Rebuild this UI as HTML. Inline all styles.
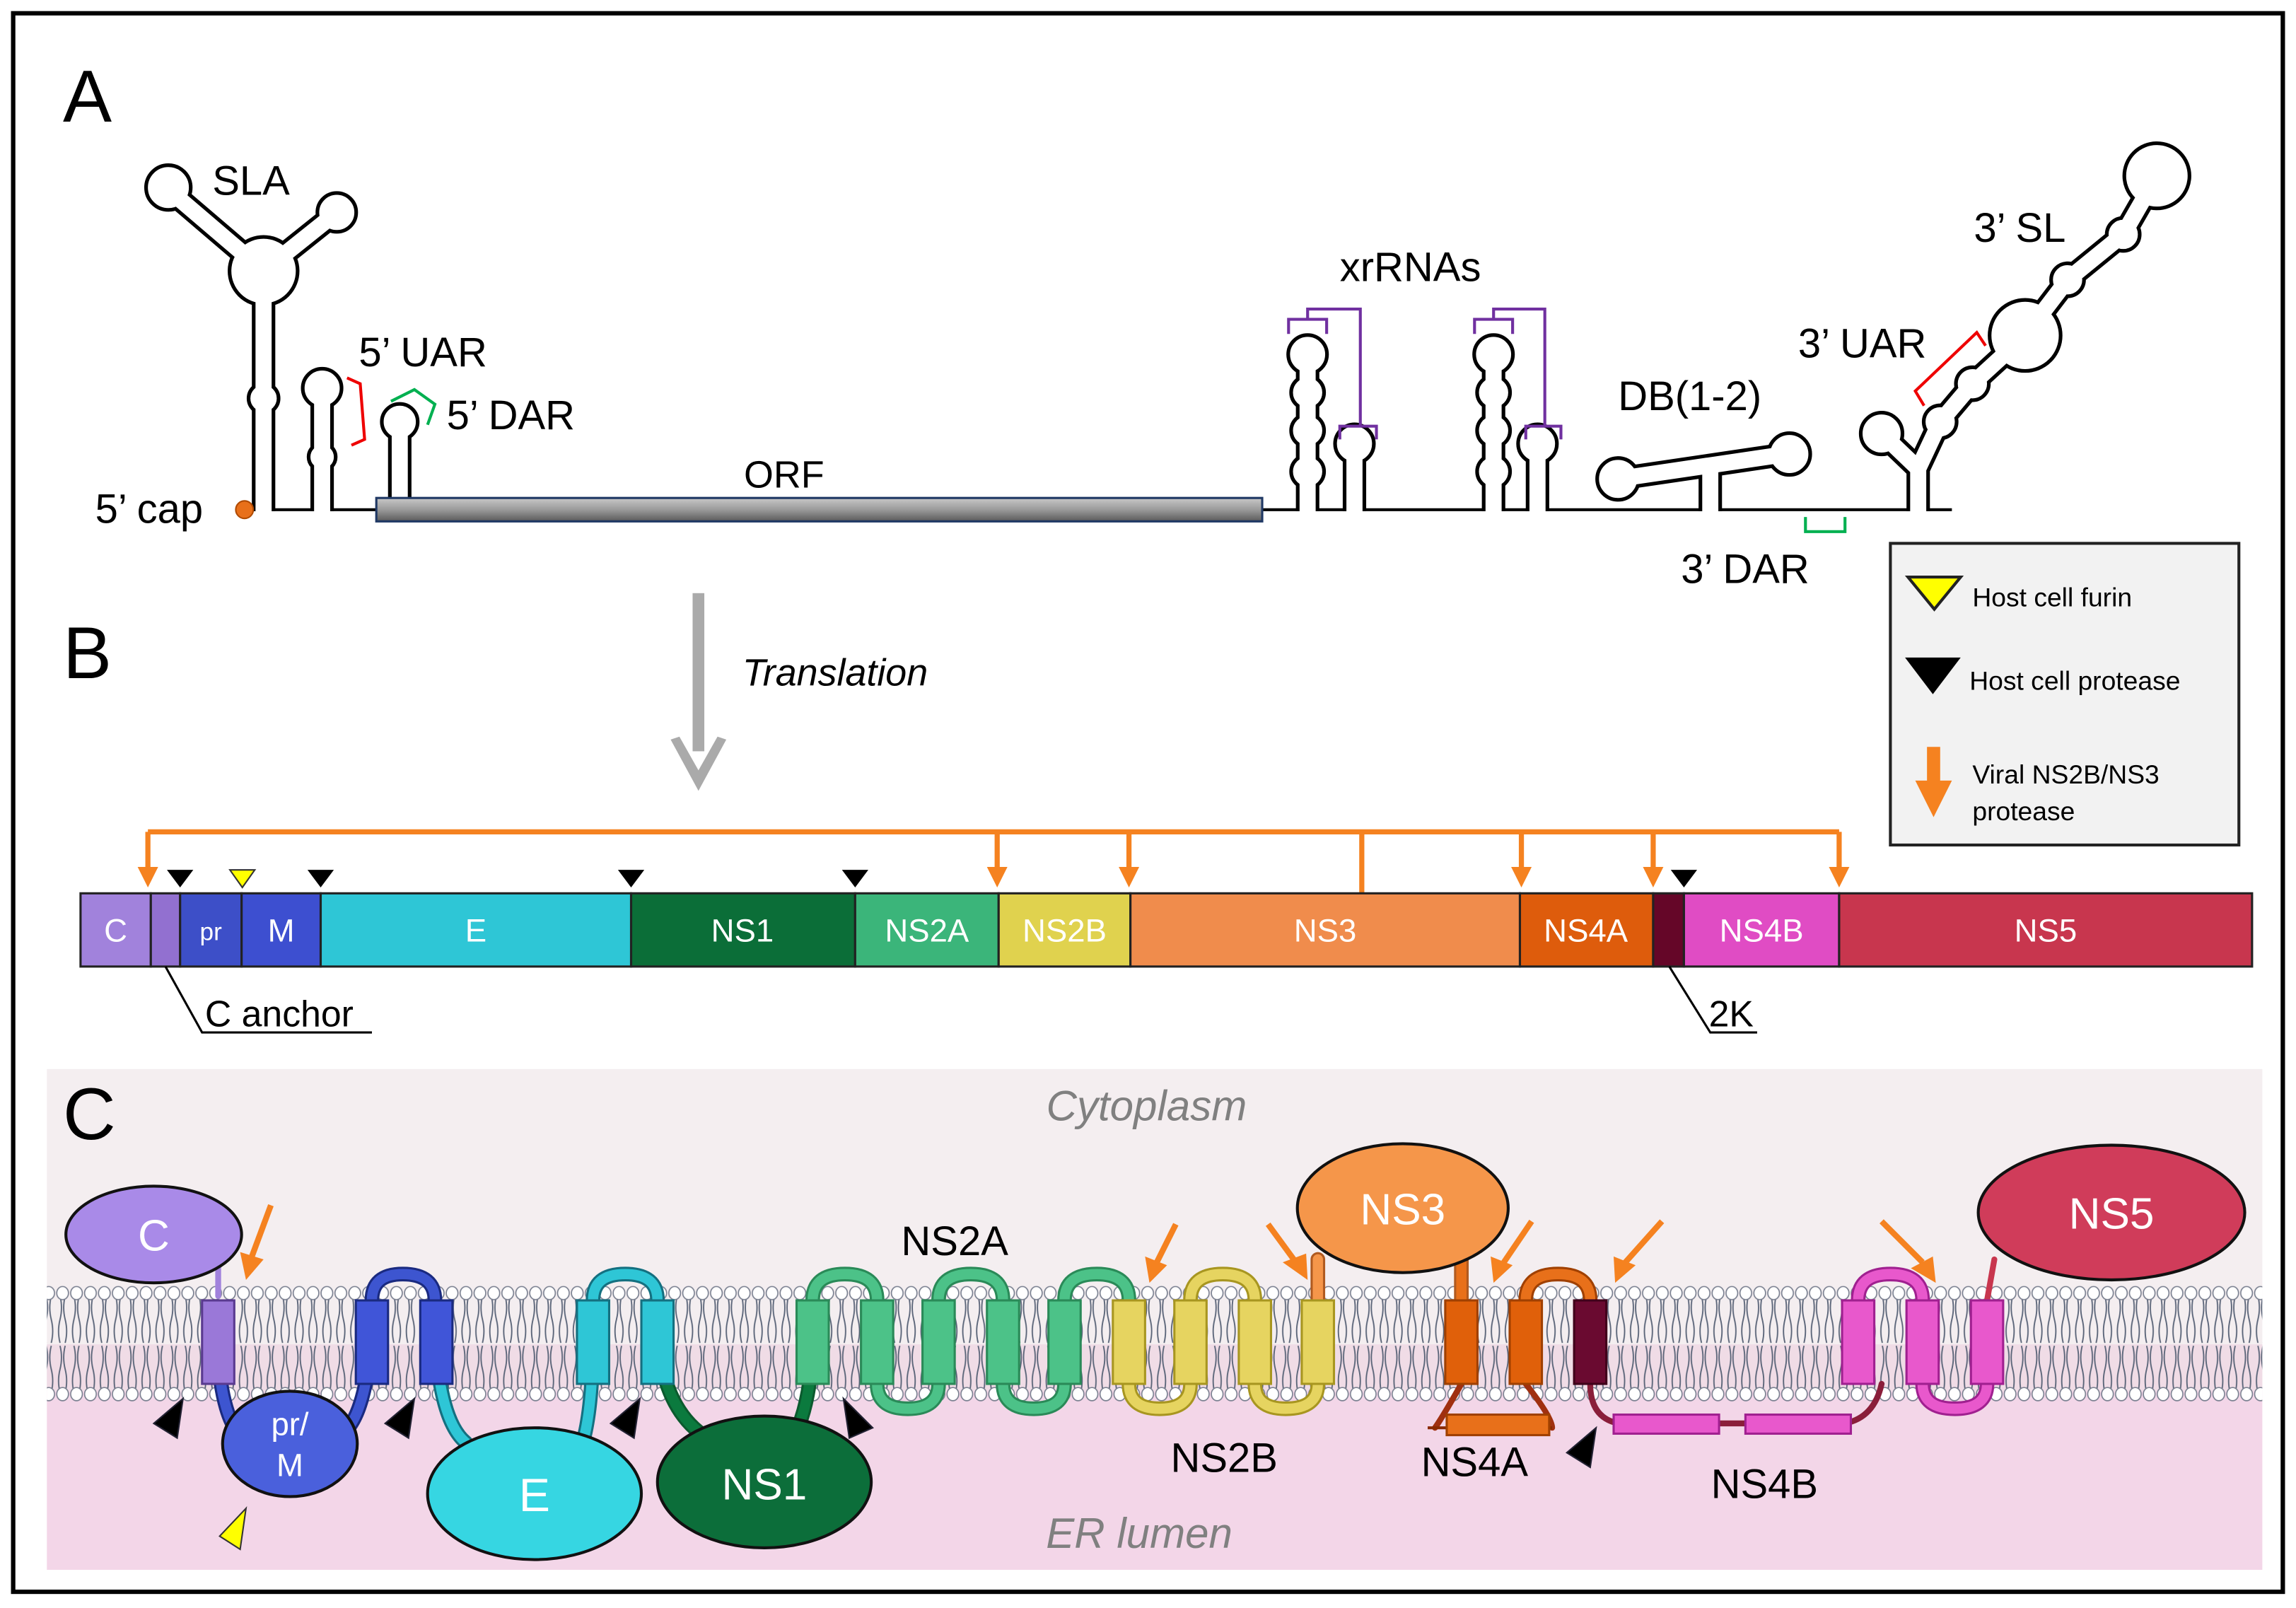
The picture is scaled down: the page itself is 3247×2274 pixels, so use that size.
<!DOCTYPE html>
<html><head><meta charset="utf-8"><style>
html,body{margin:0;padding:0;background:#fff}
svg{display:block}
text{font-family:"Liberation Sans Narrow","Liberation Sans",sans-serif}
</style></head><body>
<svg width="3247" height="2274" viewBox="0 0 1568 1098" xmlns="http://www.w3.org/2000/svg">
<defs>
<pattern id="lip" x="0" y="878" width="9.5" height="80" patternUnits="userSpaceOnUse">
 <path d="M3,7 q2,8 0,16 q-2,8 0,16 M6.5,7 q-2,8 0,16 q2,8 0,16 M3,41 q2,8 0,16 q-2,8 0,16 M6.5,41 q-2,8 0,16 q2,8 0,16" stroke="#5a6478" stroke-width="0.9" fill="none"/>
 <ellipse cx="4.75" cy="5" rx="4" ry="4.5" fill="#fff" stroke="#7a8090" stroke-width="0.8"/>
 <ellipse cx="4.75" cy="74" rx="4" ry="4.5" fill="#fff" stroke="#7a8090" stroke-width="0.8"/>
</pattern>
<linearGradient id="orf" x1="0" y1="0" x2="0" y2="1"><stop offset="0" stop-color="#c8c8c8"/><stop offset="0.5" stop-color="#9a9a9a"/><stop offset="1" stop-color="#5a5a5a"/></linearGradient>
</defs>
<rect x="0" y="0" width="1568" height="1098" fill="#fff"/>
<rect x="9" y="9" width="1550" height="1078" fill="none" stroke="#000" stroke-width="3"/>

<!-- Panel A -->
<text x="43" y="83" font-size="50" font-family="Liberation Sans">A</text>
<line x1="166" y1="348" x2="1333" y2="348" stroke="#000" stroke-width="2"/>
<g stroke="#000" fill="#000">
 <g stroke-width="16" fill="none">
  <path d="M180,349 V190 M180,185 L118,132 M180,185 L230,145 M220,349 V265 M273,349 V288 M893,349 V240 M925,349 V298 M1020,349 V240 M1050,349 V298 M1168,349 V320 M1105,327 L1220,310 M1310,349 L1310,320 L1285,296 M1310,320 L1325,288 L1347,262 L1383,229 L1412,191 L1450,160 L1473,120"/>
 </g>
 <circle cx="180" cy="185" r="24"/><circle cx="115" cy="128" r="16"/><circle cx="230" cy="145" r="14"/>
 <circle cx="180" cy="272" r="11"/>
 <circle cx="220" cy="265" r="14"/><circle cx="220" cy="312" r="10"/>
 <circle cx="273" cy="288" r="13"/>
 <circle cx="893" cy="242" r="14"/><circle cx="893" cy="268" r="12"/><circle cx="893" cy="294" r="12"/><circle cx="893" cy="322" r="12"/>
 <circle cx="925" cy="303" r="14"/>
 <circle cx="1020" cy="242" r="14"/><circle cx="1020" cy="268" r="12"/><circle cx="1020" cy="294" r="12"/><circle cx="1020" cy="322" r="12"/>
 <circle cx="1050" cy="303" r="14"/>
 <circle cx="1105" cy="327" r="15"/><circle cx="1222" cy="310" r="15"/>
 <circle cx="1285" cy="296" r="15"/>
 <circle cx="1325" cy="288" r="12"/><circle cx="1347" cy="262" r="12"/>
 <circle cx="1383" cy="229" r="25"/>
 <circle cx="1412" cy="191" r="12"/><circle cx="1450" cy="160" r="12"/>
 <circle cx="1473" cy="120" r="23"/>
</g>
<g stroke="#fff" fill="#fff">
 <g stroke-width="11" fill="none">
  <path d="M180,350 V190 M180,185 L118,132 M180,185 L230,145 M220,350 V265 M273,350 V288 M893,350 V240 M925,350 V298 M1020,350 V240 M1050,350 V298 M1168,350 V320 M1105,327 L1220,310 M1310,350 L1310,320 L1285,296 M1310,320 L1325,288 L1347,262 L1383,229 L1412,191 L1450,160 L1473,120"/>
 </g>
 <circle cx="180" cy="185" r="21.5"/><circle cx="115" cy="128" r="13.5"/><circle cx="230" cy="145" r="11.5"/>
 <circle cx="180" cy="272" r="8.5"/>
 <circle cx="220" cy="265" r="11.5"/><circle cx="220" cy="312" r="7.5"/>
 <circle cx="273" cy="288" r="10.5"/>
 <circle cx="893" cy="242" r="11.5"/><circle cx="893" cy="268" r="9.5"/><circle cx="893" cy="294" r="9.5"/><circle cx="893" cy="322" r="9.5"/>
 <circle cx="925" cy="303" r="11.5"/>
 <circle cx="1020" cy="242" r="11.5"/><circle cx="1020" cy="268" r="9.5"/><circle cx="1020" cy="294" r="9.5"/><circle cx="1020" cy="322" r="9.5"/>
 <circle cx="1050" cy="303" r="11.5"/>
 <circle cx="1105" cy="327" r="12.5"/><circle cx="1222" cy="310" r="12.5"/>
 <circle cx="1285" cy="296" r="12.5"/>
 <circle cx="1325" cy="288" r="9.5"/><circle cx="1347" cy="262" r="9.5"/>
 <circle cx="1383" cy="229" r="22.5"/>
 <circle cx="1412" cy="191" r="9.5"/><circle cx="1450" cy="160" r="9.5"/>
 <circle cx="1473" cy="120" r="20.5"/>
</g>
<circle cx="167" cy="348" r="6" fill="#e8701a" stroke="#b04a00" stroke-width="1"/>
<rect x="257" y="340" width="605" height="16" fill="url(#orf)" stroke="#1f3864" stroke-width="1.5"/>
<!-- brackets -->
<path d="M237,258 L246,262 L249,300 L240,304" stroke="#e00" stroke-width="2" fill="none"/>
<path d="M267,274 L283,266 L297,276 L292,290" stroke="#00b050" stroke-width="2" fill="none"/>
<path d="M1233,353 V363 H1260 V353" stroke="#00b050" stroke-width="2" fill="none"/>
<path d="M1314,277 L1308,267 L1350,227 L1356,236" stroke="#e00" stroke-width="2" fill="none"/>
<g stroke="#7030a0" stroke-width="2" fill="none">
 <path d="M880,228 V218 H906 V228 M893,218 V211 H929 V290 M915,300 V291 H940 V300"/>
 <path d="M1007,228 V218 H1033 V228 M1020,218 V211 H1055 V290 M1042,300 V291 H1066 V300"/>
</g>
<g font-size="28">
 <text x="145" y="133">SLA</text>
 <text x="245" y="250">5’ UAR</text>
 <text x="305" y="293">5’ DAR</text>
 <text x="65" y="357">5’ cap</text>
 <text x="508" y="333" font-size="26">ORF</text>
 <text x="915" y="192">xrRNAs</text>
 <text x="1105" y="280">DB(1-2)</text>
 <text x="1228" y="244">3’ UAR</text>
 <text x="1348" y="165">3’ SL</text>
 <text x="1148" y="398">3’ DAR</text>
</g>

<!-- Legend -->
<rect x="1291" y="371" width="238" height="206" fill="#f2f2f2" stroke="#222" stroke-width="2"/>
<path d="M1303,394 L1339,394 L1321,416 Z" fill="#ffff00" stroke="#222" stroke-width="2"/>
<text x="1347" y="414" font-size="18" font-family="Liberation Sans">Host cell furin</text>
<path d="M1301,449 L1339,449 L1320,474 Z" fill="#000"/>
<text x="1345" y="471" font-size="18" font-family="Liberation Sans">Host cell protease</text>
<rect x="1316" y="510" width="9" height="26" fill="#f58220"/>
<path d="M1308,533 L1333,533 L1320.5,558 Z" fill="#f58220"/>
<text x="1347" y="535" font-size="18" font-family="Liberation Sans">Viral NS2B/NS3</text>
<text x="1347" y="560" font-size="18" font-family="Liberation Sans">protease</text>

<!-- Panel B -->
<text x="43" y="463" font-size="50" font-family="Liberation Sans">B</text>
<rect x="473" y="405" width="8" height="108" fill="#aaa"/>
<path d="M458,505 L477,540 L496,505 L490,503 L477,526 L464,503 Z" fill="#aaa"/>
<text x="507" y="468" font-size="26" font-style="italic" font-family="Liberation Sans">Translation</text>

<g stroke="#f58220" stroke-width="3.5" fill="none">
 <path d="M101,568 H1256 M101,568 V596 M681,568 V596 M771,568 V596 M930,568 V610 M1039,568 V596 M1129,568 V596 M1256,568 V596"/>
</g>
<g fill="#f58220">
 <path d="M94,592 L108,592 L101,606 Z"/><path d="M674,592 L688,592 L681,606 Z"/><path d="M764,592 L778,592 L771,606 Z"/>
 <path d="M1032,592 L1046,592 L1039,606 Z"/><path d="M1122,592 L1136,592 L1129,606 Z"/><path d="M1249,592 L1263,592 L1256,606 Z"/>
</g>
<g fill="#000">
 <path d="M114,594 L132,594 L123,606 Z"/><path d="M210,594 L228,594 L219,606 Z"/><path d="M422,594 L440,594 L431,606 Z"/>
 <path d="M575,594 L593,594 L584,606 Z"/><path d="M1141,594 L1159,594 L1150,606 Z"/>
</g>
<path d="M157,594 L174,594 L165.5,606 Z" fill="#ffff00" stroke="#333" stroke-width="1"/>

<g stroke="#222" stroke-width="1.5">
 <rect x="55" y="610" width="48" height="50" fill="#a182dc"/>
 <rect x="103" y="610" width="20" height="50" fill="#9270d0"/>
 <rect x="123" y="610" width="42" height="50" fill="#3d4fc8"/>
 <rect x="165" y="610" width="54" height="50" fill="#3d4fd0"/>
 <rect x="219" y="610" width="212" height="50" fill="#2ec6d6"/>
 <rect x="431" y="610" width="153" height="50" fill="#0b6e38"/>
 <rect x="584" y="610" width="98" height="50" fill="#3bb57a"/>
 <rect x="682" y="610" width="90" height="50" fill="#e0d24e"/>
 <rect x="772" y="610" width="266" height="50" fill="#f08c4c"/>
 <rect x="1038" y="610" width="91" height="50" fill="#de5c0c"/>
 <rect x="1129" y="610" width="21" height="50" fill="#650628"/>
 <rect x="1150" y="610" width="106" height="50" fill="#e04cc4"/>
 <rect x="1256" y="610" width="282" height="50" fill="#c8364e"/>
</g>
<g fill="#fff" font-size="22" text-anchor="middle" font-family="Liberation Sans">
 <text x="79" y="643">C</text><text x="144" y="642" font-size="17">pr</text><text x="192" y="643">M</text>
 <text x="325" y="643">E</text><text x="507" y="643">NS1</text><text x="633" y="643">NS2A</text>
 <text x="727" y="643">NS2B</text><text x="905" y="643">NS3</text><text x="1083" y="643">NS4A</text>
 <text x="1203" y="643">NS4B</text><text x="1397" y="643">NS5</text>
</g>
<path d="M113,660 L138,705 H254" stroke="#000" stroke-width="1.5" fill="none"/>
<text x="140" y="701" font-size="25" font-family="Liberation Sans">C anchor</text>
<path d="M1140,660 L1168,705 H1200" stroke="#000" stroke-width="1.5" fill="none"/>
<text x="1167" y="701" font-size="25" font-family="Liberation Sans">2K</text>

<!-- Panel C -->
<rect x="32" y="730" width="1513" height="220" fill="#f4eef0"/>
<rect x="32" y="950" width="1513" height="122" fill="#f3d6e8"/>
<rect x="32" y="918" width="1513" height="32" fill="#f0dce6"/>
<rect x="32" y="878" width="1513" height="80" fill="url(#lip)"/>
<text x="43" y="778" font-size="50" font-family="Liberation Sans">C</text>
<text x="783" y="765" font-size="29" font-style="italic" fill="#808080" text-anchor="middle" font-family="Liberation Sans">Cytoplasm</text>
<text x="778" y="1057" font-size="29" font-style="italic" fill="#808080" text-anchor="middle" font-family="Liberation Sans">ER lumen</text>

<!-- loops -->
<g fill="none" stroke-linecap="round">
 <path d="M148,910 Q150,975 170,985" stroke="#1a2a80" stroke-width="10"/><path d="M148,910 Q150,975 170,985" stroke="#3d55d0" stroke-width="7"/>
 <path d="M254,910 Q250,965 235,978" stroke="#1a2a80" stroke-width="10"/><path d="M254,910 Q250,965 235,978" stroke="#3d55d0" stroke-width="7"/>
 <path d="M254,888 Q254,870 275,870 Q297,870 297,888" stroke="#1a2a80" stroke-width="10"/><path d="M254,888 Q254,870 275,870 Q297,870 297,888" stroke="#3d55d0" stroke-width="7"/>
 <path d="M297,910 Q300,970 318,985" stroke="#147080" stroke-width="10"/><path d="M297,910 Q300,970 318,985" stroke="#2ec6d6" stroke-width="7"/>
 <path d="M405,888 Q405,870 427,870 Q449,870 449,888" stroke="#147080" stroke-width="10"/><path d="M405,888 Q405,870 427,870 Q449,870 449,888" stroke="#2ec6d6" stroke-width="7"/>
 <path d="M405,910 Q405,960 398,985" stroke="#147080" stroke-width="10"/><path d="M405,910 Q405,960 398,985" stroke="#2ec6d6" stroke-width="7"/>
 <path d="M449,910 Q452,960 480,980" stroke="#0b5a2e" stroke-width="10"/><path d="M449,910 Q452,960 480,980" stroke="#0b7a3e" stroke-width="7"/>
 <path d="M555,910 Q555,950 545,975" stroke="#0b5a2e" stroke-width="10"/><path d="M555,910 Q555,950 545,975" stroke="#0b7a3e" stroke-width="7"/>
 <path d="M149,885 V865" stroke="#a182dc" stroke-width="4"/>
 <path d="M555,888 Q555,870 577,870 Q599,870 599,888 M641,888 Q641,870 663,870 Q685,870 685,888 M727,888 Q727,870 749,870 Q771,870 771,888" stroke="#2a8a58" stroke-width="10"/>
 <path d="M555,888 Q555,870 577,870 Q599,870 599,888 M641,888 Q641,870 663,870 Q685,870 685,888 M727,888 Q727,870 749,870 Q771,870 771,888" stroke="#4cc288" stroke-width="7"/>
 <path d="M599,945 Q599,962 620,962 Q641,962 641,945 M685,945 Q685,962 706,962 Q727,962 727,945" stroke="#2a8a58" stroke-width="10"/>
 <path d="M599,945 Q599,962 620,962 Q641,962 641,945 M685,945 Q685,962 706,962 Q727,962 727,945" stroke="#4cc288" stroke-width="7"/>
 <path d="M813,888 Q813,870 835,870 Q857,870 857,888 M771,945 Q771,962 792,962 Q813,962 813,945 M857,945 Q857,962 878,962 Q900,962 900,945" stroke="#a89620" stroke-width="10"/>
 <path d="M813,888 Q813,870 835,870 Q857,870 857,888 M771,945 Q771,962 792,962 Q813,962 813,945 M857,945 Q857,962 878,962 Q900,962 900,945" stroke="#e6d460" stroke-width="7"/>
 <path d="M900,888 V860" stroke="#b05a20" stroke-width="10"/><path d="M900,888 V860" stroke="#f5964a" stroke-width="7"/>
 <path d="M998,888 V860" stroke="#b05a20" stroke-width="10"/><path d="M998,888 V860" stroke="#e8701a" stroke-width="7"/>
 <path d="M1042,888 Q1042,870 1064,870 Q1086,870 1086,888" stroke="#a04000" stroke-width="10"/><path d="M1042,888 Q1042,870 1064,870 Q1086,870 1086,888" stroke="#e8701a" stroke-width="7"/>
 <path d="M998,945 Q985,968 980,975 M1042,945 Q1060,968 1060,975" stroke="#a03010" stroke-width="4"/>
 <path d="M1086,945 Q1086,968 1105,972 M1260,972 Q1280,968 1285,945" stroke="#8a1e3a" stroke-width="4"/>
 <path d="M1269,888 Q1269,870 1291,870 Q1313,870 1313,888" stroke="#a02090" stroke-width="10"/><path d="M1269,888 Q1269,870 1291,870 Q1313,870 1313,888" stroke="#e858cc" stroke-width="7"/>
 <path d="M1313,945 Q1313,962 1335,962 Q1357,962 1357,945" stroke="#a02090" stroke-width="10"/><path d="M1313,945 Q1313,962 1335,962 Q1357,962 1357,945" stroke="#e858cc" stroke-width="7"/>
 <path d="M1357,888 L1362,860" stroke="#c8364e" stroke-width="4"/>
</g>
<path d="M975,975 L1060,975" stroke="#8a2a00" stroke-width="2" fill="none"/>
<rect x="988" y="966" width="70" height="14" fill="#e8701a" stroke="#a04000" stroke-width="1.5"/>
<path d="M1105,972 H1260" stroke="#8a1e3a" stroke-width="4"/>
<rect x="1102" y="966" width="72" height="13" fill="#e858cc" stroke="#a02090" stroke-width="1.5"/>
<rect x="1192" y="966" width="72" height="13" fill="#e858cc" stroke="#a02090" stroke-width="1.5"/>

<!-- TM helices -->
<g stroke-width="1.5">
 <rect x="138" y="888" width="22" height="57" fill="#9a78d8" stroke="#5a3a90"/>
 <rect x="243" y="888" width="22" height="57" fill="#4055d8" stroke="#1a2a80"/>
 <rect x="287" y="888" width="22" height="57" fill="#4055d8" stroke="#1a2a80"/>
 <rect x="394" y="888" width="22" height="57" fill="#2ec6d6" stroke="#147080"/>
 <rect x="438" y="888" width="22" height="57" fill="#2ec6d6" stroke="#147080"/>
 <g fill="#4cc288" stroke="#2a8a58">
  <rect x="544" y="888" width="22" height="57"/><rect x="588" y="888" width="22" height="57"/><rect x="630" y="888" width="22" height="57"/>
  <rect x="674" y="888" width="22" height="57"/><rect x="716" y="888" width="22" height="57"/>
 </g>
 <g fill="#e6d460" stroke="#a89620">
  <rect x="760" y="888" width="22" height="57"/><rect x="802" y="888" width="22" height="57"/><rect x="846" y="888" width="22" height="57"/><rect x="889" y="888" width="22" height="57"/>
 </g>
 <rect x="987" y="888" width="22" height="57" fill="#e0600a" stroke="#a04000"/>
 <rect x="1031" y="888" width="22" height="57" fill="#e0600a" stroke="#a04000"/>
 <rect x="1075" y="888" width="22" height="57" fill="#6a0a30" stroke="#40001a"/>
 <rect x="1258" y="888" width="22" height="57" fill="#e858cc" stroke="#a02090"/>
 <rect x="1302" y="888" width="22" height="57" fill="#e858cc" stroke="#a02090"/>
 <rect x="1346" y="888" width="22" height="57" fill="#e858cc" stroke="#a02090"/>
</g>

<!-- globular domains -->
<g stroke="#111" stroke-width="2">
 <ellipse cx="105" cy="843" rx="60" ry="33" fill="#a98ae8"/>
 <ellipse cx="198" cy="986" rx="46" ry="36" fill="#4a60dc"/>
 <ellipse cx="365" cy="1020" rx="73" ry="45" fill="#36d6e2"/>
 <ellipse cx="522" cy="1012" rx="73" ry="45" fill="#0c6e3a"/>
 <ellipse cx="958" cy="825" rx="72" ry="44" fill="#f5964a"/>
 <ellipse cx="1442" cy="828" rx="91" ry="46" fill="#d03c5a"/>
</g>
<g fill="#fff" text-anchor="middle" font-family="Liberation Sans">
 <text x="105" y="854" font-size="30">C</text>
 <text x="198" y="980" font-size="22">pr/</text><text x="198" y="1008" font-size="22">M</text>
 <text x="365" y="1032" font-size="32">E</text>
 <text x="522" y="1024" font-size="30">NS1</text>
 <text x="958" y="836" font-size="30">NS3</text>
 <text x="1442" y="839" font-size="30">NS5</text>
</g>
<g font-size="28" text-anchor="middle" font-family="Liberation Sans">
 <text x="652" y="857">NS2A</text><text x="836" y="1005">NS2B</text><text x="1007" y="1008">NS4A</text><text x="1205" y="1023">NS4B</text>
</g>

<!-- arrows in C -->
<g stroke="#f58220" stroke-width="4" fill="none">
 <path d="M185,823 L172,858"/><path d="M803,836 L790,862"/><path d="M866,836 L885,862"/>
 <path d="M1046,834 L1027,862"/><path d="M1135,834 L1110,862"/><path d="M1285,834 L1313,862"/>
</g>
<g fill="#f58220">
 <path d="M164,855 L180,860 L168,874 Z"/><path d="M782,858 L797,864 L785,876 Z"/><path d="M876,862 L892,856 L893,874 Z"/>
 <path d="M1018,858 L1033,864 L1020,876 Z"/><path d="M1102,858 L1117,864 L1103,876 Z"/><path d="M1305,866 L1320,858 L1322,876 Z"/>
</g>
<g fill="#000" stroke="#223" stroke-width="1">
 <path d="M125,955 L105,972 L121,982 Z"/><path d="M283,955 L263,972 L279,982 Z"/><path d="M437,955 L417,972 L433,982 Z"/>
 <path d="M576,955 L596,975 L580,982 Z"/><path d="M1090,975 L1070,992 L1086,1002 Z"/>
</g>
<path d="M168,1030 L150,1049 L164,1058 Z" fill="#ffff00" stroke="#333" stroke-width="1"/>
</svg>
</body></html>
